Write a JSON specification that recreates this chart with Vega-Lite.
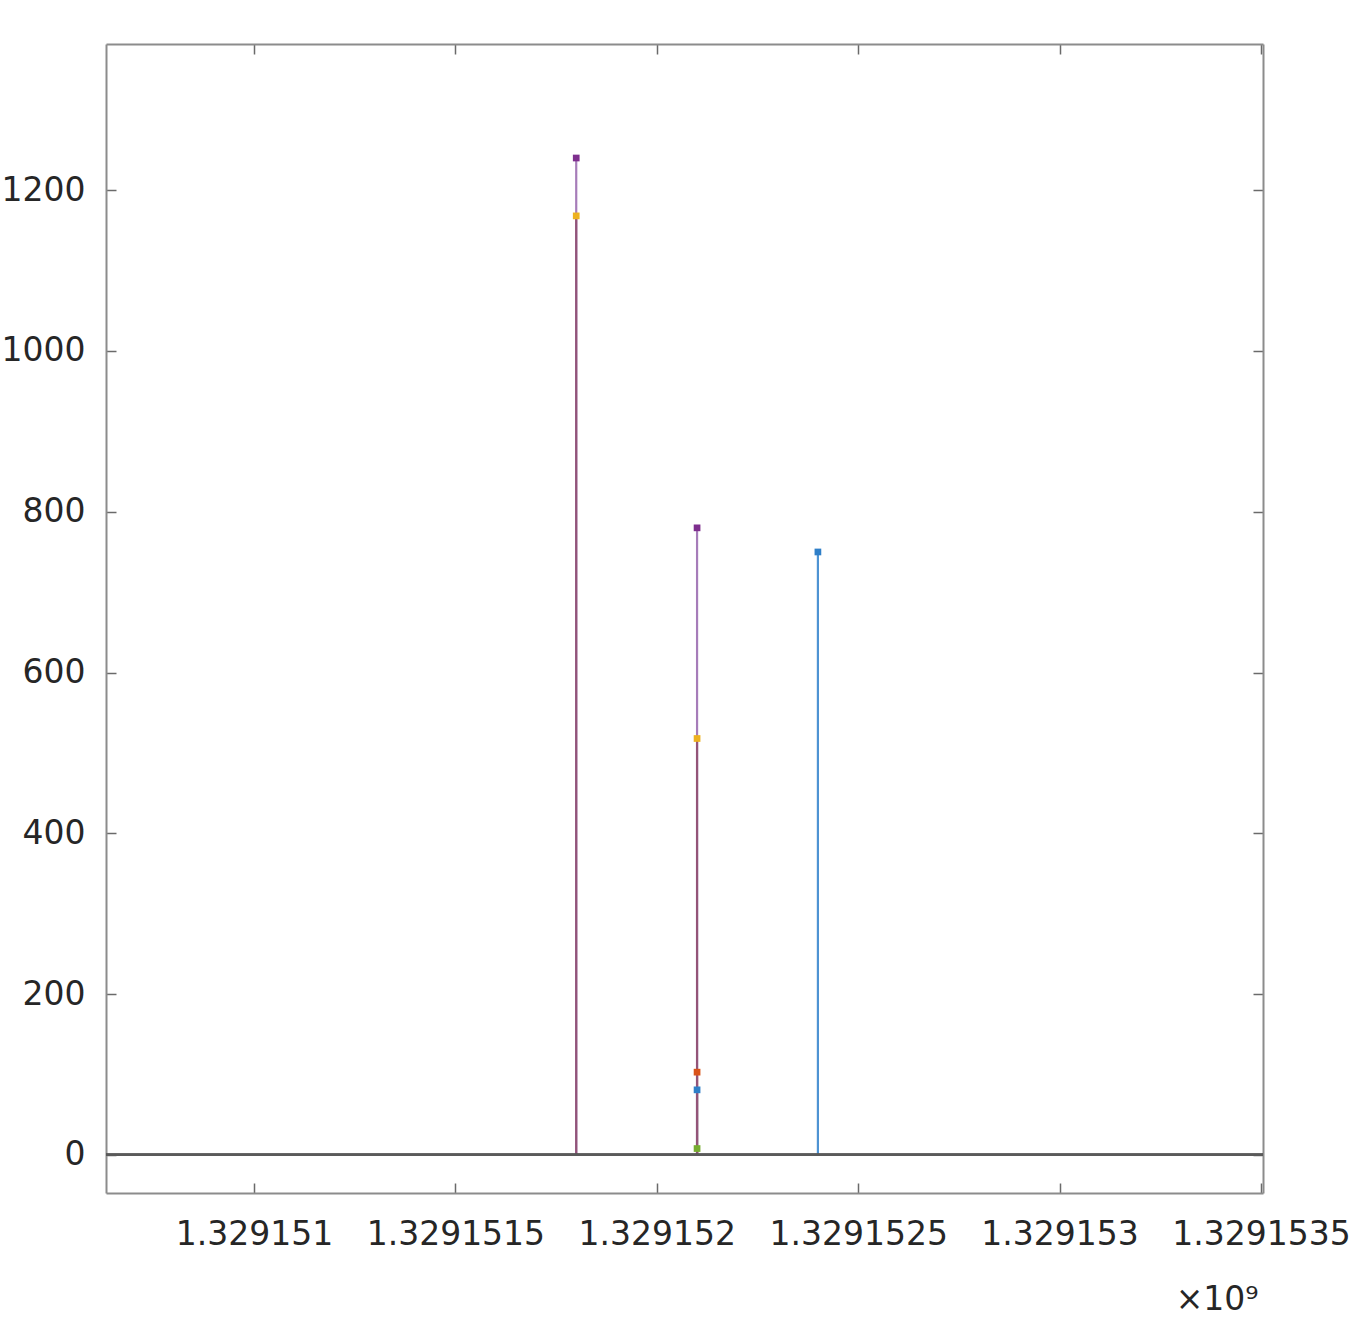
{
  "$schema": "https://vega.github.io/schema/vega-lite/v6.json",
  "width": 1157,
  "height": 1149,
  "autosize": {"type": "none"},
  "padding": {"left": 106, "top": 44, "right": 105, "bottom": 149},
  "background": "white",
  "config": {
    "view": {"stroke": null},
    "axis": {
      "grid": false,
      "domainColor": "#8c8c8c",
      "domainWidth": 2,
      "tickColor": "#6a6a6a",
      "tickWidth": 1.5,
      "tickSize": -10,
      "labelFont": "DejaVu Sans",
      "labelFontSize": 33,
      "labelColor": "#262626",
      "titleFont": "DejaVu Sans",
      "titleFontSize": 33,
      "titleFontWeight": "normal",
      "titleColor": "#262626"
    }
  },
  "data": {
    "values": [
      {"t": 1329151800, "v": 1240, "s": "purple"},
      {"t": 1329152100, "v": 780, "s": "purple"},
      {"t": 1329152100, "v": 81, "s": "blue"},
      {"t": 1329152400, "v": 750, "s": "blue"},
      {"t": 1329152100, "v": 103, "s": "orange"},
      {"t": 1329152100, "v": 8, "s": "green"},
      {"t": 1329151800, "v": 1168, "s": "yellow"},
      {"t": 1329152100, "v": 518, "s": "yellow"}
    ]
  },
  "resolve": {"axis": {"x": "independent", "y": "independent"}},
  "layer": [
    {
      "mark": {"type": "rule", "strokeWidth": 2.2},
      "encoding": {
        "x": {
          "field": "t", "type": "quantitative",
          "scale": {"domain": [1329150632.6, 1329153505], "nice": false, "zero": false},
          "axis": {
            "values": [1329151000, 1329151500, 1329152000, 1329152500, 1329153000, 1329153500],
            "labelExpr": "format(datum.value / 1e9, '.7~f')",
            "labelPadding": 35,
            "title": "×10⁹",
            "titleAnchor": "end",
            "titleAlign": "right",
            "titleX": 1152,
            "titleY": 116,
            "titleBaseline": "alphabetic"
          }
        },
        "y": {
          "field": "v", "type": "quantitative",
          "scale": {"domain": [-47.3, 1381.8], "nice": false, "zero": false},
          "axis": {
            "values": [0, 200, 400, 600, 800, 1000, 1200],
            "format": "d",
            "labelPadding": 31,
            "title": null
          }
        },
        "y2": {"datum": 0},
        "stroke": {
          "field": "s", "type": "nominal", "legend": null,
          "scale": {
            "domain": ["purple", "blue", "orange", "green", "yellow"],
            "range": ["#a67cb9", "#4e93d3", "#d97a4f", "#8fb85a", "#935478"]
          }
        }
      }
    },
    {
      "mark": {"type": "rule", "stroke": "#5a5a5a", "strokeWidth": 2.2},
      "encoding": {
        "y": {"datum": 0, "type": "quantitative", "axis": null}
      }
    },
    {
      "mark": {"type": "point", "shape": "square", "filled": true, "size": 45, "opacity": 1},
      "encoding": {
        "x": {
          "field": "t", "type": "quantitative",
          "axis": {"orient": "top", "labels": false, "title": null, "values": [1329151000, 1329151500, 1329152000, 1329152500, 1329153000, 1329153500]}
        },
        "y": {
          "field": "v", "type": "quantitative",
          "axis": {"orient": "right", "labels": false, "title": null, "values": [0, 200, 400, 600, 800, 1000, 1200]}
        },
        "fill": {
          "field": "s", "type": "nominal", "legend": null,
          "scale": {
            "domain": ["purple", "blue", "orange", "green", "yellow"],
            "range": ["#7e2f8e", "#2f7fc8", "#d95319", "#77ac30", "#edb120"]
          }
        }
      }
    }
  ]
}
